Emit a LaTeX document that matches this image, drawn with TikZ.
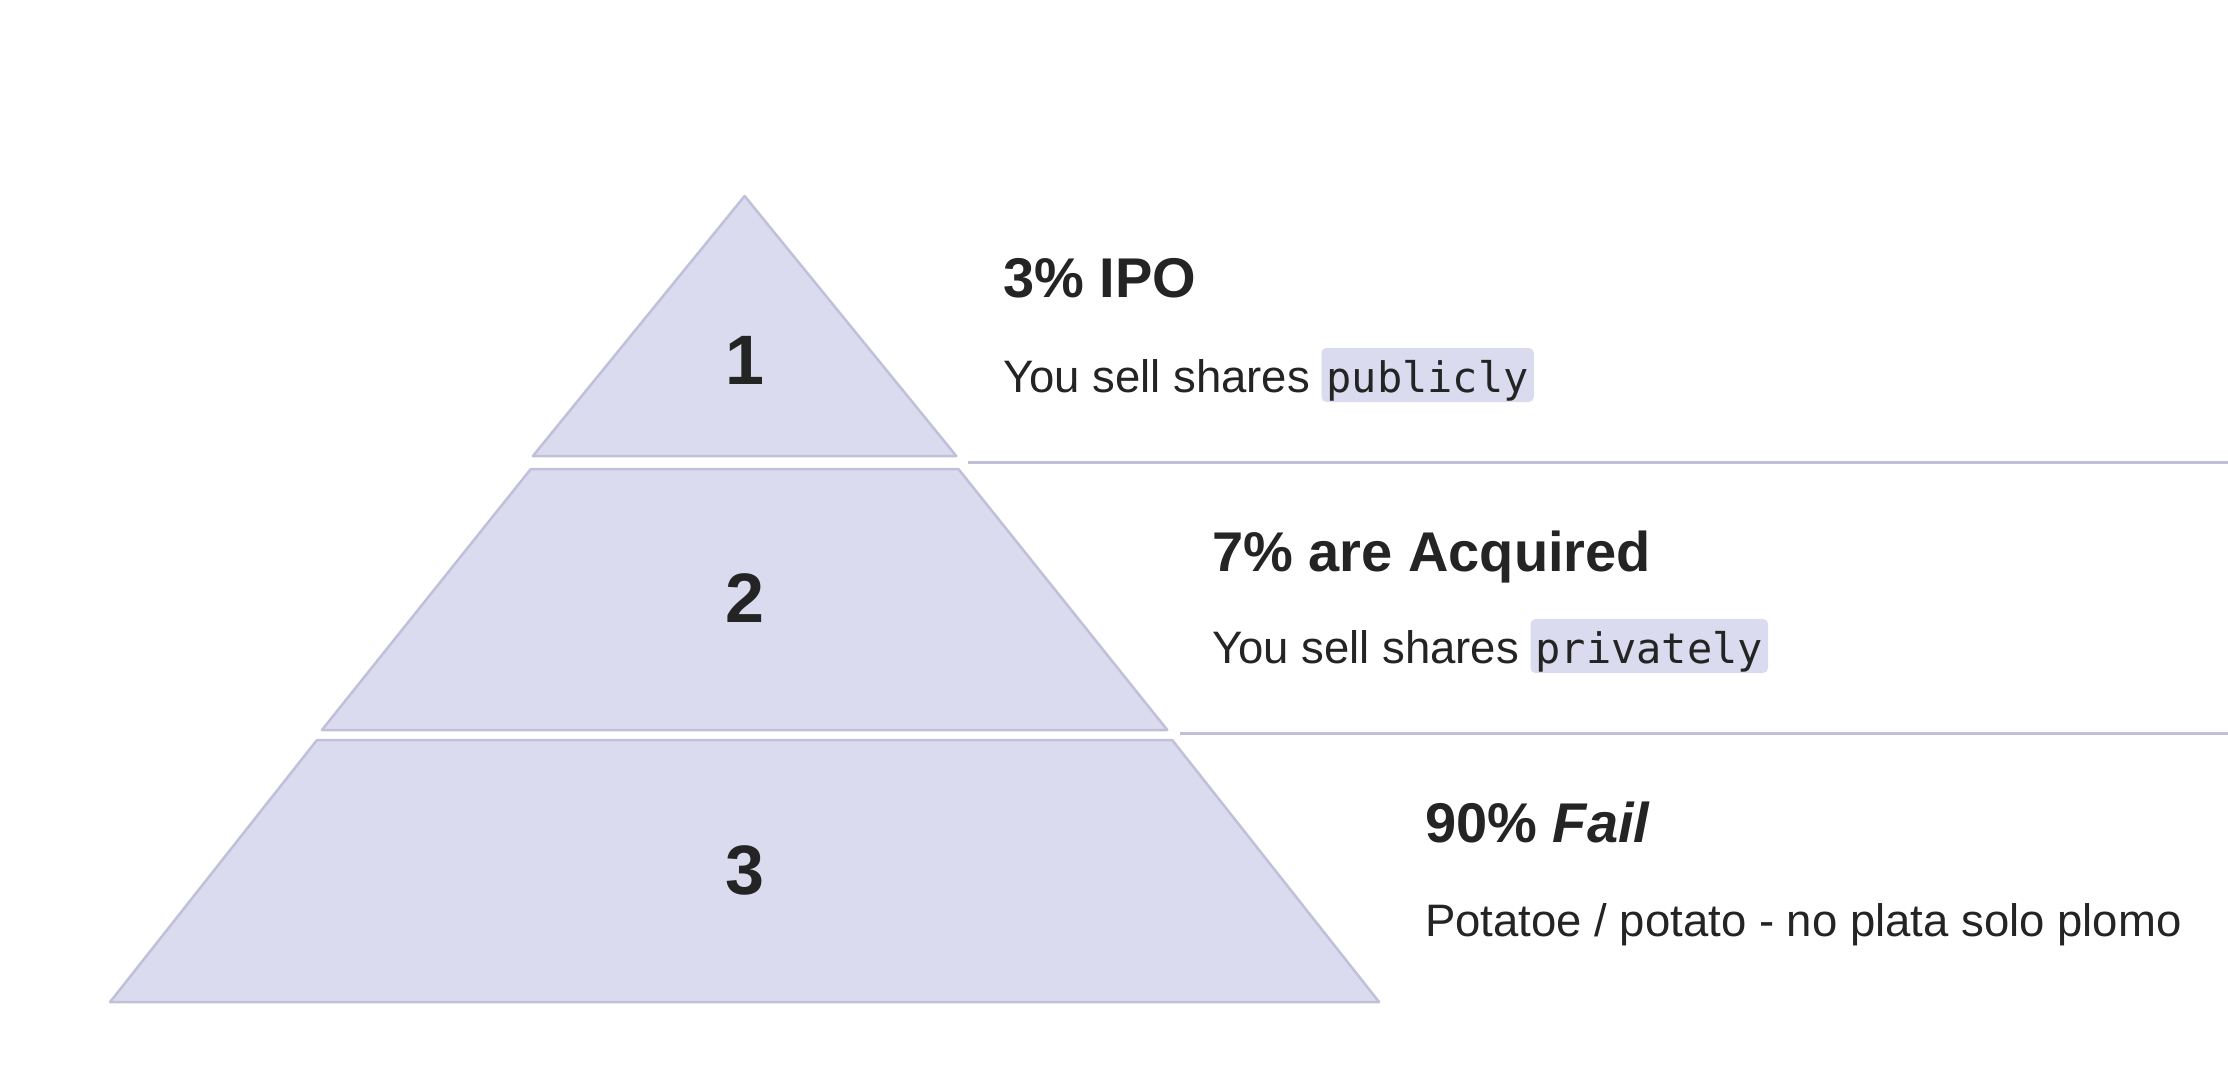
\documentclass[tikz,border=0pt]{standalone}
\usepackage{fontspec}
\setmainfont{Liberation Sans}
\setmonofont{DejaVu Sans Mono}
\definecolor{pfill}{RGB}{218,219,239}
\definecolor{pline}{RGB}{192,193,216}
\definecolor{ink}{RGB}{36,36,36}
\begin{document}
\begin{tikzpicture}[x=1pt,y=-1pt,
 level/.style={fill=pfill, draw=pline, line width=2.5pt, line join=round},
 sepline/.style={draw=pline, line width=3pt},
 num/.style={font=\fontsize{70}{80}\selectfont\bfseries, text=ink, anchor=base, inner sep=0pt},
 head/.style={font=\fontsize{56}{66}\selectfont\bfseries, text=ink, anchor=base west, inner sep=0pt},
 body/.style={font=\fontsize{45.5}{54}\selectfont, text=ink, anchor=base west, inner sep=0pt},
 code/.style={font=\fontsize{42}{50}\selectfont\ttfamily, text=ink, fill=pfill, rounded corners=5pt, inner xsep=5pt, inner ysep=0pt, text height=44pt, text depth=10pt, anchor=base west}]
\useasboundingbox[fill=white] (0,0) rectangle (2228,1090);
% pyramid levels
\draw[level] (744.6,196) -- (956.3,456) -- (532.9,456) -- cycle;
\draw[level] (530.8,469) -- (958.4,469) -- (1167.3,730) -- (321.9,730) -- cycle;
\draw[level] (317,740) -- (1172.2,740) -- (1379.1,1002) -- (110.1,1002) -- cycle;
% separators
\coordinate (s1a) at (968,462);
\coordinate (s1b) at (2228,462);
\coordinate (s2a) at (1180,733);
\coordinate (s2b) at (2228,733);
\draw[sepline] (s1a) -- (s1b);
\draw[sepline] (s2a) -- (s2b);
% numbers
\node[num] (n1) at (744.6,384) {1};
\node[num] (n2) at (744.6,622) {2};
\node[num] (n3) at (744.6,894) {3};
% texts
\node[head] (h1) at (1003,297) {3\% IPO};
\node[body] (b1) at (1003,392) {You sell shares};
\node[code] (c1) at ([xshift=11pt]b1.base east) {publicly};
\node[head] (h2) at (1212,571) {7\% are Acquired};
\node[body] (b2) at (1212,663) {You sell shares};
\node[code] (c2) at ([xshift=11pt]b2.base east) {privately};
\node[head] (h3) at (1425,842) {90\% \itshape Fail};
\node[body] (b3) at (1425,936) {Potatoe / potato - no plata solo plomo};
\end{tikzpicture}
\end{document}
